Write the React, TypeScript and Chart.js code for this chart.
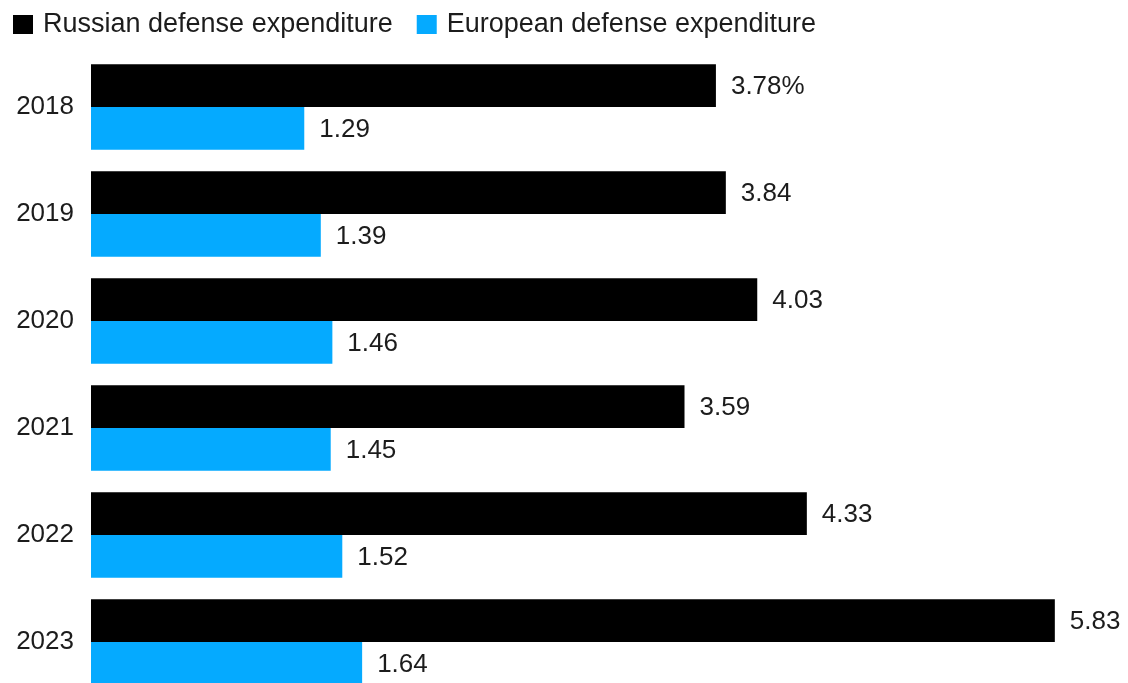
import React, { useEffect, useRef } from "react";
import { Chart, registerables } from "chart.js";

Chart.register(...registerables);

const years = ["2018", "2019", "2020", "2021", "2022", "2023"];
const russian = [3.78, 3.84, 4.03, 3.59, 4.33, 5.83];
const european = [1.29, 1.39, 1.46, 1.45, 1.52, 1.64];
const seriesNames = ["Russian defense expenditure", "European defense expenditure"];
const seriesColors = ["#000000", "#05AAFF"];

const FONT = '"Liberation Sans", Arial, sans-serif';
const TEXT = "#1c1c1c";

const legendPlugin = {
  id: "customLegend",
  afterDraw(chart: any) {
    const ctx = chart.ctx;
    ctx.save();
    ctx.font = `27px ${FONT}`;
    ctx.textBaseline = "middle";
    ctx.textAlign = "left";
    let x = 13;
    const cy = 24;
    chart.data.datasets.forEach((ds: any) => {
      ctx.fillStyle = ds.backgroundColor;
      ctx.fillRect(x, cy - 9, 20, 19);
      ctx.fillStyle = TEXT;
      ctx.fillText(ds.label, x + 30, cy + 1);
      x += 30 + ctx.measureText(ds.label).width + 24;
    });
    ctx.restore();
  },
};

const valueLabelPlugin = {
  id: "valueLabels",
  afterDatasetsDraw(chart: any) {
    const ctx = chart.ctx;
    ctx.save();
    ctx.font = `26px ${FONT}`;
    ctx.textBaseline = "middle";
    ctx.textAlign = "left";
    ctx.fillStyle = TEXT;
    chart.data.datasets.forEach((ds: any, di: number) => {
      const meta = chart.getDatasetMeta(di);
      meta.data.forEach((el: any, i: number) => {
        const v = ds.data[i] as number;
        const txt = di === 0 && i === 0 ? `${v.toFixed(2)}%` : v.toFixed(2);
        ctx.fillText(txt, el.x + 15, el.y + 1);
      });
    });
    ctx.restore();
  },
};

export default function App() {
  const ref = useRef<HTMLCanvasElement>(null);
  useEffect(() => {
    if (!ref.current) return;
    const chart = new Chart(ref.current, {
      type: "bar",
      data: {
        labels: years,
        datasets: [
          { label: seriesNames[0], data: russian, backgroundColor: seriesColors[0], categoryPercentage: 0.8, barPercentage: 1.0 },
          { label: seriesNames[1], data: european, backgroundColor: seriesColors[1], categoryPercentage: 0.8, barPercentage: 1.0 },
        ],
      },
      options: {
        indexAxis: "y",
        animation: false,
        responsive: false,
        maintainAspectRatio: false,
        layout: { padding: { left: 0, top: 53.5, right: 12, bottom: 4.5 } },
        plugins: { legend: { display: false }, tooltip: { enabled: false } },
        scales: {
          x: { display: false, min: 0, max: 6.2 },
          y: {
            grid: { display: false, drawTicks: false },
            border: { display: false },
            ticks: { font: { size: 26, family: FONT }, color: TEXT, padding: 17 },
            afterFit: (scale: any) => {
              scale.width = 91;
              scale.paddingTop = 0;
              scale.paddingBottom = 0;
            },
          },
        },
      },
      plugins: [legendPlugin, valueLabelPlugin],
    });
    return () => chart.destroy();
  }, []);
  return (
    <div style={{ position: "fixed", left: 0, top: 0, width: 1128, height: 700, background: "#fff" }}>
      <canvas ref={ref} width={1128} height={700} style={{ display: "block" }} />
    </div>
  );
}
